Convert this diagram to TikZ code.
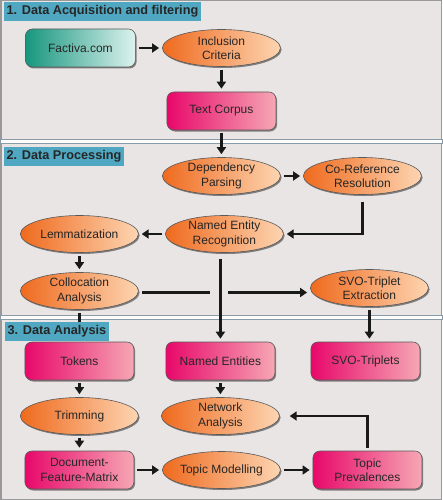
\documentclass[tikz,border=0pt]{standalone}
\usepackage{fontspec}
\setmainfont{Liberation Sans}
\usepackage{tikz}
\usetikzlibrary{arrows.meta,shapes.geometric,shadows}
\definecolor{bgcol}{HTML}{E9E5E4}
\definecolor{titlecol}{HTML}{4FA7C1}
\definecolor{rulecol}{HTML}{8A9BA8}
\definecolor{tealL}{HTML}{17967E}
\definecolor{tealR}{HTML}{DDF2EE}
\definecolor{orangeL}{HTML}{EF6A1E}
\definecolor{orangeR}{HTML}{FDD5B2}
\definecolor{pinkL}{HTML}{E8086A}
\definecolor{pinkR}{HTML}{F6A7B4}

\begin{document}
\begin{tikzpicture}[x=1pt,y=1pt,>={Triangle[length=7pt,width=9pt]},
  every node/.style={font=\fontsize{12}{14.5}\selectfont,align=center,text=black!85},
  shade/.style={draw=black!65,line width=0.6pt,
    drop shadow={shadow xshift=1.2pt,shadow yshift=-1.5pt,opacity=0.45,fill=black}},
  oval/.style={shade,ellipse,minimum width=118pt,minimum height=37pt,inner sep=0pt,
    left color=orangeL,right color=orangeR},
  pinkbox/.style={shade,rectangle,rounded corners=7pt,minimum width=109pt,minimum height=38pt,
    left color=pinkL,right color=pinkR},
  tealbox/.style={shade,rectangle,rounded corners=7pt,minimum width=110pt,minimum height=38pt,
    left color=tealL,right color=tealR},
  title/.style={fill=titlecol,anchor=north west,inner xsep=3pt,minimum height=19pt,
    font=\fontsize{12.7}{14}\selectfont\bfseries},
  flow/.style={->,line width=2.6pt,black!90,shorten <=3pt,shorten >=3pt},
  divider/.style={draw=rulecol,fill=white!90!bgcol,line width=0.8pt}]

\fill[bgcol] (0,0) rectangle (442,-500);
\draw[black!40,line width=1.2pt] (0.6,-0.6) rectangle (441.4,-499.4);
\draw[divider] (0,-139.5) rectangle (442,-143.5);
\draw[divider] (0,-315) rectangle (442,-319);

\node[oval] (incl) at (221,-48) {Inclusion\\Criteria};
\node[tealbox,left of=incl,node distance=141pt] (factiva) {Factiva.com};
\node[pinkbox,below of=incl,node distance=63pt] (corpus) {Text Corpus};
\node[oval,below of=corpus,node distance=65pt] (dep) {Dependency\\Parsing};
\node[oval,right of=dep,node distance=141pt] (coref) {Co-Reference\\Resolution};
\node[oval,below of=dep,node distance=58pt,xshift=3pt] (ner) {Named Entity\\Recognition};
\node[oval,left of=ner,node distance=145pt] (lemma) {Lemmatization};
\node[oval,below of=lemma,node distance=57pt] (colloc) {Collocation\\Analysis};
\node[oval,right of=colloc,node distance=290pt,yshift=3pt] (svoext) {SVO-Triplet\\Extraction};
\node[pinkbox,below of=colloc,node distance=70pt] (tokens) {Tokens};
\node[pinkbox,right of=tokens,node distance=141pt] (entities) {Named Entities};
\node[pinkbox,right of=entities,node distance=145pt] (triplets) {SVO-Triplets};
\node[oval,below of=tokens,node distance=55pt] (trim) {Trimming};
\node[oval,right of=trim,node distance=141pt] (network) {Network\\Analysis};
\node[pinkbox,below of=trim,node distance=54pt] (dfm) {Document-\\Feature-Matrix};
\node[oval,right of=dfm,node distance=142pt] (topics) {Topic Modelling};
\node[pinkbox,right of=topics,node distance=146pt] (prev) {Topic\\Prevalences};

\coordinate (gapL) at (213,-292.5);
\coordinate (gapR) at (228,-292.5);

\draw[flow] (factiva) -- (incl);
\draw[flow] (incl) -- (corpus);
\draw[flow] (corpus) -- (dep);
\draw[flow] (dep) -- (coref);
\draw[flow,shorten <=7pt,line cap=butt] (coref.south) |- (ner.east);
\draw[flow] (ner) -- (lemma);
\draw[flow] (lemma) -- (colloc);
\draw[flow,-] (colloc.east |- gapL) -- (gapL);
\draw[flow,shorten <=0pt] (gapR) -- (svoext.west |- gapR);
\draw[flow,shorten <=6pt] (entities.north |- ner.south) -- (entities.north);
\draw[flow] (svoext.south) -- (svoext.south |- triplets.north);
\draw[flow] (colloc) -- (tokens);
\draw[flow] (tokens) -- (trim);
\draw[flow] (trim) -- (dfm);
\draw[flow] (entities) -- (network);
\draw[flow] (dfm) -- (topics);
\draw[flow] (topics) -- (prev);
\draw[flow,shorten >=10pt] (prev.north) |- (network.east);

\node[title] (sec1) at (3,-2) {1. Data Acquisition and filtering};
\node[title] (sec2) at (3,-147) {2. Data Processing};
\node[title] (sec3) at (4,-322) {3. Data Analysis};
\end{tikzpicture}
\end{document}
